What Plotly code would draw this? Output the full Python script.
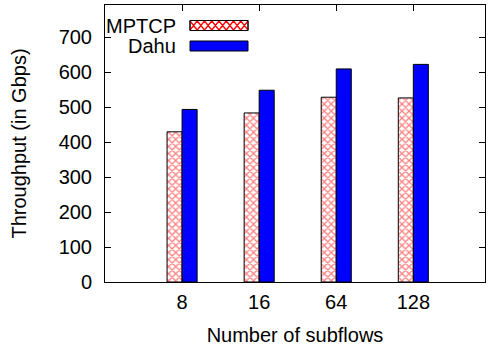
import plotly.graph_objects as go

categories = ["8", "16", "64", "128"]
mptcp = [430, 484, 529, 527]
dahu = [494, 549, 610, 623]
y_ticks = [0, 100, 200, 300, 400, 500, 600, 700]

FONT = "Liberation Sans, Arial, Helvetica, sans-serif"
FS = 20
xpos = list(range(1, len(categories) + 1))

fig = go.Figure()
fig.add_trace(go.Bar(
    x=xpos, y=mptcp, name="MPTCP",
    marker=dict(color="white", line=dict(color="black", width=1),
                pattern=dict(shape="x", fgcolor="red", bgcolor="white", size=5, solidity=0.45)),
    showlegend=False,
))
fig.add_trace(go.Bar(
    x=xpos, y=dahu, name="Dahu",
    marker=dict(color="blue", line=dict(color="black", width=1)),
    showlegend=False,
))

W, H = 490, 346
L, R, T, B = 105, 5, 5, 64
pw, ph = W - L - R, H - T - B

def px(x):
    return (x - L) / pw

def py(y):
    return (H - B - y) / ph

shapes = []
x0, x1 = px(190), px(248)
shapes.append(dict(type="rect", xref="paper", yref="paper", x0=x0, x1=x1,
                   y0=py(30.5), y1=py(20.5), fillcolor="white",
                   line=dict(color="black", width=1), layer="above"))
n = 8
w = (x1 - x0) / n
path = ""
ya, yb = py(21), py(30)
for k in range(n):
    a = x0 + k * w
    b = a + w
    path += f"M{a},{ya} L{b},{yb} M{b},{ya} L{a},{yb} "
shapes.append(dict(type="path", xref="paper", yref="paper", path=path,
                   line=dict(color="red", width=1.3), layer="above"))
shapes.append(dict(type="rect", xref="paper", yref="paper", x0=x0, x1=x1,
                   y0=py(30.5), y1=py(20.5),
                   line=dict(color="black", width=1), layer="above"))
shapes.append(dict(type="rect", xref="paper", yref="paper", x0=x0, x1=x1,
                   y0=py(51), y1=py(41), fillcolor="blue",
                   line=dict(color="black", width=1), layer="above"))

annotations = [
    dict(text="MPTCP", xref="paper", yref="paper", x=px(178), y=py(25.5),
         xanchor="right", yanchor="middle", showarrow=False,
         font=dict(family=FONT, size=FS, color="black")),
    dict(text="Dahu", xref="paper", yref="paper", x=px(178), y=py(46),
         xanchor="right", yanchor="middle", showarrow=False,
         font=dict(family=FONT, size=FS, color="black")),
]

fig.update_layout(
    width=W, height=H,
    margin=dict(l=L, r=R, t=T, b=B, autoexpand=False),
    paper_bgcolor="white", plot_bgcolor="white",
    barmode="group", bargap=0.61, bargroupgap=0,
    font=dict(family=FONT, size=FS, color="black"),
    shapes=shapes, annotations=annotations,
    showlegend=False,
)
fig.update_xaxes(
    range=[0, 4.93], tickvals=xpos, ticktext=categories,
    showgrid=False, zeroline=False,
    showline=True, linecolor="black", linewidth=1, mirror="ticks",
    ticks="inside", ticklen=6, tickcolor="black",
    ticklabelstandoff=2, automargin=False,
    title=dict(text="Number of subflows", font=dict(size=FS), standoff=15),
)
fig.update_yaxes(
    range=[0, 793], tickvals=y_ticks,
    showgrid=False, zeroline=False,
    showline=True, linecolor="black", linewidth=1, mirror="ticks",
    ticks="inside", ticklen=6, tickcolor="black",
    ticklabelstandoff=8, automargin=False,
    title=dict(text="Throughput (in Gbps)", font=dict(size=FS), standoff=26),
)

fig.write_html(
    "out.html",
    config={"displayModeBar": False},
    post_script=(
        "document.documentElement.style.overflow='hidden';"
        "document.body.style.overflow='hidden';"
        "document.body.style.margin='0px';"
    ),
)
